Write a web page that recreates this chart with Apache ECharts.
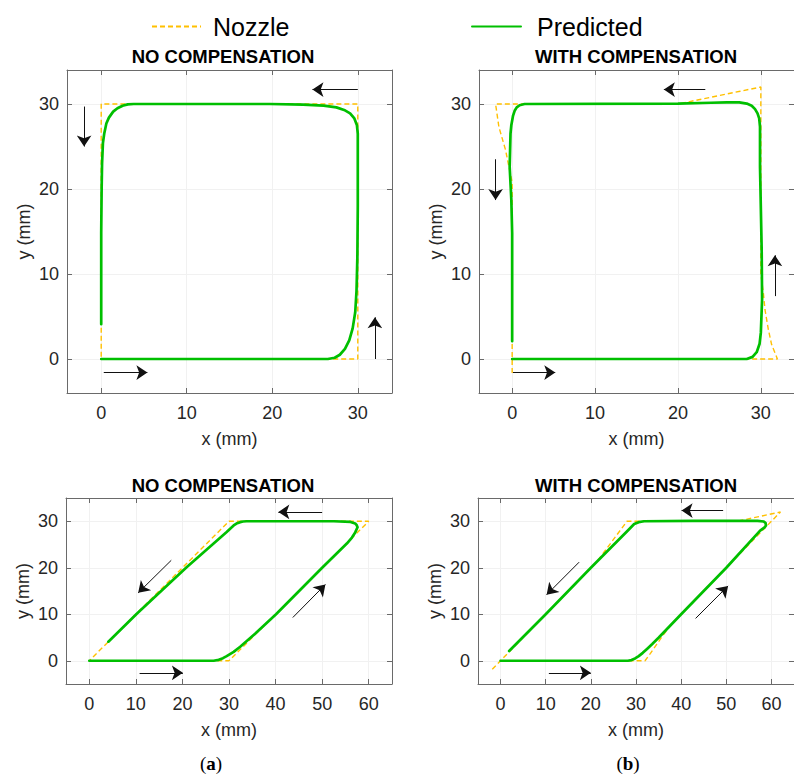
<!DOCTYPE html>
<html><head><meta charset="utf-8">
<script src="https://cdn.jsdelivr.net/npm/echarts@6/dist/echarts.min.js"></script>
<style>html,body{margin:0;padding:0;background:#fff}#c{width:794px;height:774px}</style>
</head><body><div id="c"></div><script>
// ---- tick labels ----
const SQ_TICKS = [0, 10, 20, 30];
const PG_X_TICKS = [0, 10, 20, 30, 40, 50, 60];
const PG_Y_TICKS = [0, 10, 20, 30];

// ---- (a) top: square, no compensation ----
const NOZZLE_SQ_NOCOMP = [[0,0],[30,0],[30,30],[0,30],[0,0]];
const PRED_SQ_NOCOMP = [[0,0],[26.5,0],[27.3,0.15],[27.9,0.5],[28.5,1.2],[29.0,2.2],[29.4,3.6],[29.7,5.5],[29.85,8],[29.95,12],[30,18],[30,26.5],[29.9,27.5],[29.6,28.3],[29.1,28.9],[28.4,29.3],[27.5,29.6],[26,29.8],[23.6,29.92],[19.7,30],[4.5,30],[3.8,30],[3.1,29.95],[2.5,29.8],[1.9,29.5],[1.4,29.1],[0.9,28.4],[0.6,27.7],[0.35,26.5],[0.2,25.4],[0.1,23],[0.05,20],[0,14.8],[0,4.1]];
const ARROWS_SQ_NOCOMP = [[30,31.7,24.7,31.7],[-2,29.7,-2,25],[0.3,-1.6,5.4,-1.6],[32,0,32,4.9]];

// ---- (b) top: square, with compensation ----
const NOZZLE_SQ_COMP = [[0,0],[32,0],[31.3,1.7],[30.9,3.5],[30.5,5.8],[30.3,7.8],[30,10],[30,32],[27.5,31.5],[25,31.0],[22.5,30.5],[20,30],[-2,30],[-1.6,27.3],[-0.8,24.6],[-0.3,22.2],[0,20.8],[0,-2]];
const PRED_SQ_COMP = [[0,0],[28.3,0],[29.0,0.25],[29.5,0.8],[29.85,1.8],[30.0,3.1],[30.15,7.0],[30.1,12.9],[29.9,22.6],[29.9,27.3],[29.8,28.3],[29.6,28.9],[29.3,29.4],[28.9,29.8],[28.3,30.05],[27.4,30.2],[25.9,30.2],[24.0,30.15],[20,30.05],[1.5,30],[0.9,29.85],[0.55,29.6],[0.3,29.2],[0.1,28.6],[-0.1,27.5],[-0.2,26.5],[-0.3,22.6],[-0.1,18.7],[0,14.8],[0,2.1]];
const ARROWS_SQ_COMP = [[23.3,31.7,18.3,31.7],[-2,23.5,-2,18.7],[0.1,-1.6,5.2,-1.6],[31.7,7.4,31.7,12.2]];

// ---- (a) bottom: parallelogram, no compensation ----
const NOZZLE_PG_NOCOMP = [[0,0],[30,0],[60,30],[30,30],[0,0]];
const PRED_PG_NOCOMP = [[0,0],[26.7,0],[27.8,0.2],[28.7,0.55],[29.5,1.0],[31,1.9],[32.4,3.0],[35.6,5.8],[40.1,10],[50,20],[55.3,25.2],[56.4,26.5],[57.1,27.6],[57.6,28.7],[57.4,29.2],[57.1,29.5],[56.1,29.85],[52.5,30],[33.8,30],[33.0,29.95],[32.4,29.8],[31.6,29.5],[31.0,29.1],[29.5,27.7],[20.9,20.1],[10.2,10.1],[4.1,4.1]];
const ARROWS_PG_NOCOMP = [[50,32,40.6,32],[17.6,21.6,10.5,14.6],[10.8,-2.6,20.1,-2.6],[43.7,9.3,50.7,16.4]];

// ---- (b) bottom: parallelogram, with compensation ----
const NOZZLE_PG_COMP = [[0,0],[32,0],[33.2,1.6],[34.5,3.4],[36,5.5],[38,8],[62,32],[52.5,30],[28,30],[21.5,21.5],[-2,-2]];
const PRED_PG_COMP = [[0,0],[28.2,0],[29.0,0.15],[29.8,0.5],[30.6,1.0],[31.5,1.7],[32.5,2.6],[33.6,3.6],[35,4.95],[40,10],[50,20],[57.5,28],[58.5,28.7],[58.8,29.1],[58.7,29.6],[58.3,29.95],[56.9,30.1],[49.7,30.1],[42.6,30.1],[31.8,30],[30.6,29.8],[29.6,29.4],[28.2,28],[20,20],[10,10],[1.9,2.1]];
const ARROWS_PG_COMP = [[49.3,32.3,40.1,32.3],[17.4,21.2,10.2,14.2],[10.7,-2.6,20,-2.6],[43.2,9.1,50.4,16.1]];

const TITLES = ['NO COMPENSATION', 'WITH COMPENSATION', 'NO COMPENSATION', 'WITH COMPENSATION'];

const NOZZLE_COLOR = '#FFC000';
const PRED_COLOR = '#00BF00';
const AXIS_COLOR = '#6a6a6a';
const TEXT_COLOR = '#262626';
const FONT = 'Liberation Sans, Arial, Helvetica, sans-serif';

const panels = [
  {grid:{left:67,top:70,width:325,height:323}, xr:[-4,34], yr:[-4,34], xt:SQ_TICKS, yt:SQ_TICKS, noz:NOZZLE_SQ_NOCOMP, pred:PRED_SQ_NOCOMP, arr:ARROWS_SQ_NOCOMP, title:[223,56]},
  {grid:{left:479,top:70,width:324,height:323}, xr:[-4,34], yr:[-4,34], xt:SQ_TICKS, yt:SQ_TICKS, noz:NOZZLE_SQ_COMP, pred:PRED_SQ_COMP, arr:ARROWS_SQ_COMP, title:[636,56]},
  {grid:{left:66,top:498,width:326,height:186}, xr:[-5,65], yr:[-5,35], xt:PG_X_TICKS, yt:PG_Y_TICKS, noz:NOZZLE_PG_NOCOMP, pred:PRED_PG_NOCOMP, arr:ARROWS_PG_NOCOMP, title:[223,485]},
  {grid:{left:478,top:498,width:327,height:186}, xr:[-5,65], yr:[-5,35], xt:PG_X_TICKS, yt:PG_Y_TICKS, noz:NOZZLE_PG_COMP, pred:PRED_PG_COMP, arr:ARROWS_PG_COMP, title:[636,485]}
];

const grid = [], xAxis = [], yAxis = [], series = [], graphic = [];
panels.forEach((p, i) => {
  grid.push(Object.assign({containLabel:false}, p.grid));
  const lineStyle = {color: AXIS_COLOR, width: 1};
  const tickStyle = {color: AXIS_COLOR, width: 1};
  xAxis.push({type:'value', gridIndex:i, min:p.xr[0], max:p.xr[1], position:'bottom',
    name:'x (mm)', nameLocation:'middle', nameGap:37,
    nameTextStyle:{fontSize:18, color:TEXT_COLOR, fontFamily:FONT},
    axisLine:{show:true, onZero:false, lineStyle},
    axisTick:{show:true, inside:true, length:5, customValues:p.xt, lineStyle:tickStyle},
    axisLabel:{customValues:p.xt, fontSize:18, color:TEXT_COLOR, fontFamily:FONT, margin:11},
    splitLine:{show:true, lineStyle:{color:'#f1f1f1', width:1}}});
  xAxis.push({type:'value', gridIndex:i, min:p.xr[0], max:p.xr[1], position:'top',
    axisLine:{show:true, onZero:false, lineStyle},
    axisTick:{show:true, inside:true, length:5, customValues:p.xt, lineStyle:tickStyle},
    axisLabel:{show:false}, splitLine:{show:false}});
  yAxis.push({type:'value', gridIndex:i, min:p.yr[0], max:p.yr[1], position:'left',
    name:'y (mm)', nameLocation:'middle', nameGap:34,
    nameTextStyle:{fontSize:18, color:TEXT_COLOR, fontFamily:FONT},
    axisLine:{show:true, onZero:false, lineStyle},
    axisTick:{show:true, inside:true, length:5, customValues:p.yt, lineStyle:tickStyle},
    axisLabel:{customValues:p.yt, fontSize:18, color:TEXT_COLOR, fontFamily:FONT, margin:8},
    splitLine:{show:true, lineStyle:{color:'#f1f1f1', width:1}}});
  yAxis.push({type:'value', gridIndex:i, min:p.yr[0], max:p.yr[1], position:'right',
    axisLine:{show:true, onZero:false, lineStyle},
    axisTick:{show:true, inside:true, length:5, customValues:p.yt, lineStyle:tickStyle},
    axisLabel:{show:false}, splitLine:{show:false}});
  series.push({type:'line', name:'Nozzle', xAxisIndex:2*i, yAxisIndex:2*i, data:p.noz,
    symbol:'none', showSymbol:false, z:3, silent:true,
    lineStyle:{color:NOZZLE_COLOR, width:1.4, type:[5,3]}, itemStyle:{color:NOZZLE_COLOR}});
  series.push({type:'line', name:'Predicted', xAxisIndex:2*i, yAxisIndex:2*i, data:p.pred,
    symbol:'none', showSymbol:false, z:4, silent:true,
    lineStyle:{color:PRED_COLOR, width:2.7, join:'round', cap:'round'}, itemStyle:{color:PRED_COLOR}});
  series.push({type:'lines', coordinateSystem:'cartesian2d', xAxisIndex:2*i, yAxisIndex:2*i,
    data:p.arr.map(a => ({coords:[[a[0],a[1]],[a[2],a[3]]]})),
    symbol:['none','arrow'], symbolSize:11, z:5, silent:true,
    lineStyle:{color:'#111', width:1, opacity:1, curveness:0}});
  graphic.push({type:'text', x:p.title[0], y:p.title[1], silent:true,
    style:{text:TITLES[i], fill:'#000', font:'bold 18.5px ' + FONT, textAlign:'center', textVerticalAlign:'middle'}});
});

const CAP_FONT = 'Liberation Serif, DejaVu Serif, serif';
[['a',211],['b',628]].forEach(([t,x]) => {
  graphic.push({type:'text', x:x, y:763, silent:true,
    style:{text:'{n|(}{b|' + t + '}{n|)}', textAlign:'center', textVerticalAlign:'middle',
      rich:{n:{fontSize:19, fontFamily:CAP_FONT, fill:'#000'},
            b:{fontSize:19, fontWeight:'bold', fontFamily:CAP_FONT, fill:'#000'}}}});
});

const legendCommon = {orient:'horizontal', top:9, itemWidth:49, itemHeight:14,
  itemStyle:{opacity:0},
  textStyle:{fontSize:25, color:'#000', fontFamily:FONT}, selectedMode:false};

const option = {
  animation:false,
  backgroundColor:'#fff',
  legend:[Object.assign({}, legendCommon, {data:['Nozzle'], left:146,
            textStyle:Object.assign({}, legendCommon.textStyle, {padding:[0,0,0,7]})}),
          Object.assign({}, legendCommon, {data:['Predicted'], left:466,
            textStyle:Object.assign({}, legendCommon.textStyle, {padding:[0,0,0,11]})})],
  grid, xAxis, yAxis, series, graphic
};
const chart = echarts.init(document.getElementById('c'), null, {renderer:'svg', width:794, height:774});
chart.setOption(option);
</script></body></html>
